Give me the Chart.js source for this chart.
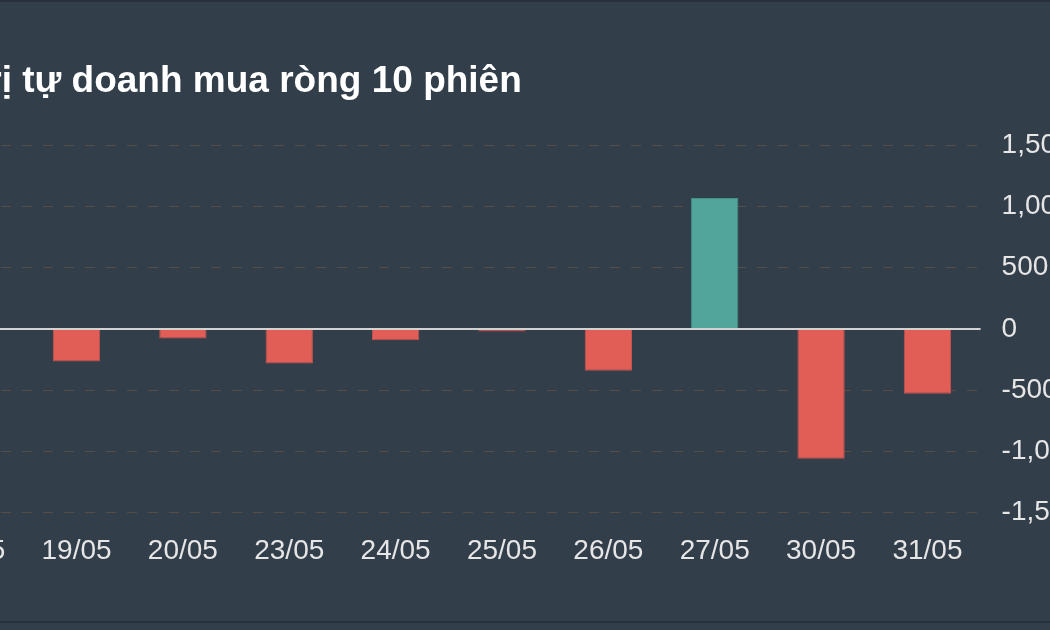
<!DOCTYPE html>
<html lang="vi">
<head>
    <meta charset="UTF-8">
    <title>Tự doanh mua ròng</title>
    <script src="https://cdn.jsdelivr.net/npm/chart.js"></script>
    <style>
        html, body {
            margin: 0;
            padding: 0;
            width: 1050px;
            height: 630px;
            overflow: hidden;
            background: #333e4b;
        }
        .frame {
            position: relative;
            width: 1050px;
            height: 630px;
        }
        .line-top, .line-bottom {
            position: absolute;
            left: 0;
            width: 1050px;
            height: 2px;
            background: #27303b;
        }
        .line-top { top: 0; }
        .line-bottom { top: 621px; }
        .chart-box {
            position: absolute;
            left: -95px;
            top: 0;
            width: 1202px;
            height: 630px;
        }
    </style>
</head>
<body>
<div class="frame">
    <div class="line-top"></div>
    <div class="chart-box"><canvas id="chart"></canvas></div>
    <div class="line-bottom"></div>
</div>

<script>
    const titleText = 'Giá trị tự doanh mua ròng 10 phiên';
    const sessions = ['18/05', '19/05', '20/05', '23/05', '24/05', '25/05', '26/05', '27/05', '30/05', '31/05'];
    const netBuy = [-150, -267, -79, -283, -92, -22, -343, 1070, -1062, -531];
    const yTicks = [-1500, -1000, -500, 0, 500, 1000, 1500];

    const upColor = '#51a59b';
    const upBorder = '#43918a';
    const downColor = '#e05e56';
    const downBorder = '#c5524c';
    const fontFamily = 'Liberation Sans, Arial, Helvetica, sans-serif';

    // solid zero line on top of the dashed grid
    const zeroLine = {
        id: 'zeroLine',
        afterDatasetsDraw(chart) {
            const { ctx, chartArea, scales } = chart;
            const y = Math.round(scales.y.getPixelForValue(0));
            ctx.save();
            ctx.strokeStyle = '#d2d2d2';
            ctx.lineWidth = 2;
            ctx.beginPath();
            ctx.moveTo(chartArea.left, y);
            ctx.lineTo(chartArea.right, y);
            ctx.stroke();
            ctx.restore();
        }
    };

    new Chart(document.getElementById('chart'), {
        type: 'bar',
        data: {
            labels: sessions,
            datasets: [{
                data: netBuy,
                backgroundColor: netBuy.map(v => v >= 0 ? upColor : downColor),
                borderColor: netBuy.map(v => v >= 0 ? upBorder : downBorder),
                borderWidth: 1,
                barPercentage: 1,
                categoryPercentage: 0.445
            }]
        },
        options: {
            responsive: true,
            maintainAspectRatio: false,
            animation: false,
            layout: { padding: { left: 0, right: 5, top: 0, bottom: 40 } },
            plugins: {
                legend: { display: false },
                tooltip: { enabled: false },
                title: {
                    display: true,
                    text: titleText,
                    align: 'start',
                    color: '#ffffff',
                    font: { family: fontFamily, size: 37, weight: 'bold' },
                    padding: { top: 60, bottom: 41 }
                }
            },
            scales: {
                x: {
                    grid: { display: false, drawTicks: false },
                    border: { display: false },
                    ticks: {
                        color: '#e6e6e6',
                        font: { family: fontFamily, size: 28 },
                        padding: 22,
                        maxRotation: 0,
                        autoSkip: false
                    }
                },
                y: {
                    position: 'right',
                    min: -1500,
                    max: 1500,
                    afterBuildTicks: axis => { axis.ticks = yTicks.map(v => ({ value: v })); },
                    grid: {
                        color: ctx => ctx.tick && ctx.tick.value === 0 ? 'rgba(0,0,0,0)' : '#554d45',
                        lineWidth: 1,
                        drawTicks: false
                    },
                    border: { display: false, dash: [10, 11] },
                    ticks: {
                        color: '#e6e6e6',
                        font: { family: fontFamily, size: 28 },
                        padding: 21,
                        callback: v => v.toLocaleString('en-US')
                    }
                },
                // empty spacer on the left so the plot starts a bit right of the title
                spacer: {
                    position: 'left',
                    display: true,
                    grid: { display: false },
                    border: { display: false },
                    ticks: { display: false },
                    afterFit: s => { s.width = 12; }
                }
            }
        },
        plugins: [zeroLine]
    });
</script>
</body>
</html>
